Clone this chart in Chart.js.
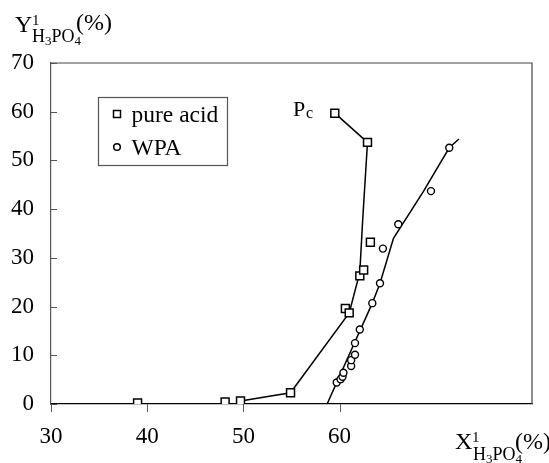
<!DOCTYPE html>
<html>
<head>
<meta charset="utf-8">
<script src="https://cdn.jsdelivr.net/npm/chart.js@4/dist/chart.umd.min.js"></script>
<style>
  html, body { margin: 0; padding: 0; background: #fff; }
  #c { display: block; }
</style>
</head>
<body>
<canvas id="c" width="549" height="463"></canvas>
<script>
// Measured points: pure acid
const pureX = [39.0, 48.1, 49.7, 54.9, 60.6, 61.0, 62.1, 62.5, 63.2, 62.9, 59.5];
const pureY = [0.2, 0.4, 0.6, 2.3, 19.6, 18.7, 26.3, 27.5, 33.2, 53.7, 59.7];
// Measured points: WPA
const wpaX = [59.7, 60.1, 60.3, 60.4, 61.2, 61.2, 61.6, 61.6, 62.1, 63.4, 64.2, 64.5, 66.1, 69.5, 71.4];
const wpaY = [4.4, 5.1, 5.6, 6.4, 7.8, 9.0, 10.1, 12.5, 15.3, 20.7, 24.8, 31.9, 36.9, 43.7, 52.6];
// Hand-drawn trend curves through each set
const pureCurveX = [49.7, 54.9, 61.0, 62.1, 62.4, 62.9, 59.5];
const pureCurveY = [0.6, 2.3, 18.7, 27.0, 37.8, 53.7, 59.7];
const wpaCurveX = [58.7, 63.4, 64.2, 65.6, 68.7, 71.4, 72.4];
const wpaCurveY = [0.0, 20.7, 24.8, 34.0, 43.6, 52.6, 54.4];
// Axis ticks
const xTicks = [30, 40, 50, 60];
const yTicks = [0, 10, 20, 30, 40, 50, 60, 70];
const seriesNames = ['pure acid', 'WPA'];

const SERIF = '"Liberation Serif", "DejaVu Serif", serif';
const pts = (xs, ys) => xs.map((x, i) => ({ x: x, y: ys[i] }));

// Draws the frame, inward/outward tick marks, legend and the styled axis titles
const decor = {
  id: 'decor',
  beforeDatasetsDraw(chart) {
    const { ctx, chartArea: a, scales } = chart;
    ctx.save();
    // top and right frame
    ctx.strokeStyle = '#444';
    ctx.lineWidth = 1.2;
    ctx.beginPath();
    ctx.moveTo(a.left, a.top);
    ctx.lineTo(a.right, a.top);
    ctx.lineTo(a.right, a.bottom);
    ctx.stroke();
    // y ticks point inward
    ctx.strokeStyle = '#555';
    ctx.lineWidth = 1;
    yTicks.forEach(v => {
      const y = Math.round(scales.y.getPixelForValue(v)) + 0.5;
      ctx.beginPath();
      ctx.moveTo(a.left, y);
      ctx.lineTo(a.left + 6, y);
      ctx.stroke();
    });
    // x ticks point outward
    xTicks.forEach(v => {
      const x = Math.round(scales.x.getPixelForValue(v)) + 0.5;
      ctx.beginPath();
      ctx.moveTo(x, a.bottom);
      ctx.lineTo(x, a.bottom + 8);
      ctx.stroke();
    });
    ctx.restore();
  },
  afterDraw(chart) {
    const { ctx } = chart;
    ctx.save();
    ctx.fillStyle = '#000';
    ctx.textBaseline = 'alphabetic';
    ctx.textAlign = 'left';
    const txt = (s, x, y, size) => {
      ctx.font = size + 'px ' + SERIF;
      ctx.fillText(s, x, y);
      return ctx.measureText(s).width;
    };

    // legend
    ctx.strokeStyle = '#555';
    ctx.lineWidth = 1.2;
    ctx.strokeRect(98.5, 97.5, 129, 68);
    ctx.strokeStyle = '#000';
    ctx.lineWidth = 1.5;
    ctx.fillStyle = '#fff';
    ctx.fillRect(113.5, 110.5, 7, 7);
    ctx.strokeRect(113.5, 110.5, 7, 7);
    ctx.beginPath();
    ctx.arc(117, 147, 3.3, 0, Math.PI * 2);
    ctx.fill();
    ctx.stroke();
    ctx.fillStyle = '#000';
    txt(seriesNames[0], 131.5, 122, 23.5);
    txt(seriesNames[1], 131.5, 155, 23.5);

    // critical point label
    txt('P', 293, 116, 22);
    txt('c', 306, 118, 16);

    // y axis title
    txt('Y', 15, 32, 24);
    txt('1', 32, 25, 15);
    let x = 32;
    x += txt('H', x, 42, 18);
    x += txt('3', x, 45, 13);
    x += txt('P', x, 42, 18);
    x += txt('O', x, 42, 18);
    txt('4', x, 45, 13);
    txt('(%)', 76, 30, 24);

    // x axis title
    txt('X', 455, 449, 24);
    txt('1', 472, 442, 15);
    x = 473;
    x += txt('H', x, 460, 18);
    x += txt('3', x, 463, 13);
    x += txt('P', x, 460, 18);
    x += txt('O', x, 460, 18);
    txt('4', x, 463, 13);
    txt('(%)', 515, 449, 24);
    ctx.restore();
  }
};

new Chart(document.getElementById('c'), {
  type: 'scatter',
  data: {
    datasets: [
      {
        label: seriesNames[0],
        data: pts(pureX, pureY),
        pointStyle: 'rect',
        pointRadius: 5.6,
        pointBorderWidth: 1.5,
        pointBorderColor: '#000',
        pointBackgroundColor: '#fff',
        showLine: false,
        order: 0
      },
      {
        label: seriesNames[1],
        data: pts(wpaX, wpaY),
        pointStyle: 'circle',
        pointRadius: 3.5,
        pointBorderWidth: 1.4,
        pointBorderColor: '#000',
        pointBackgroundColor: '#fff',
        showLine: false,
        order: 0
      },
      {
        label: 'pure acid curve',
        data: pts(pureCurveX, pureCurveY),
        showLine: true,
        borderColor: '#000',
        borderWidth: 1.5,
        pointRadius: 0,
        tension: 0,
        order: 1
      },
      {
        label: 'WPA curve',
        data: pts(wpaCurveX, wpaCurveY),
        showLine: true,
        borderColor: '#000',
        borderWidth: 1.5,
        pointRadius: 0,
        tension: 0,
        order: 1
      }
    ]
  },
  options: {
    responsive: false,
    animation: false,
    devicePixelRatio: 1,
    layout: { padding: { left: 0, top: 63, right: 17, bottom: 0 } },
    plugins: {
      legend: { display: false },
      tooltip: { enabled: false }
    },
    scales: {
      x: {
        type: 'linear',
        min: 30,
        max: 80,
        afterFit: s => { s.height = 59; },
        afterBuildTicks: s => { s.ticks = xTicks.map(v => ({ value: v })); },
        grid: { display: false, drawTicks: false },
        border: { display: true, color: '#000', width: 1.3 },
        ticks: {
          color: '#000',
          padding: 19,
          maxRotation: 0,
          font: { family: SERIF, size: 23 }
        }
      },
      y: {
        type: 'linear',
        min: 0,
        max: 70,
        afterFit: s => { s.width = 51; },
        afterBuildTicks: s => { s.ticks = yTicks.map(v => ({ value: v })); },
        grid: { display: false, drawTicks: false },
        border: { display: true, color: '#555', width: 1.2 },
        ticks: {
          color: '#000',
          padding: 17,
          font: { family: SERIF, size: 23 }
        }
      }
    }
  },
  plugins: [decor]
});
</script>
</body>
</html>
